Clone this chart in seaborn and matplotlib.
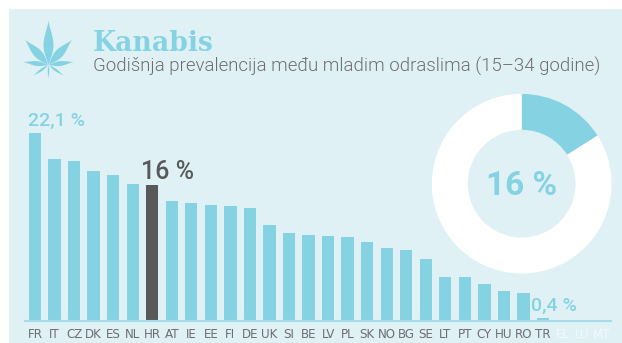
import matplotlib
matplotlib.use("Agg")
import matplotlib.pyplot as plt
from matplotlib.patches import Polygon
import numpy as np
import pandas as pd
import seaborn as sns

countries = ["FR","IT","CZ","DK","ES","NL","HR","AT","IE","EE","FI","DE","UK","SI","BE",
             "LV","PL","SK","NO","BG","SE","LT","PT","CY","HU","RO","TR","EL","LU","MT"]
prevalence = [22.1,19.0,18.8,17.6,17.2,16.1,16.0,14.1,13.9,13.6,13.5,13.3,11.3,10.3,10.1,
              10.0,9.9,9.3,8.6,8.3,7.3,5.2,5.2,4.3,3.5,3.3,0.4,0,0,0]
highlight = "HR"
missing = ["EL","LU","MT"]
donut_values = [16, 84]
title = "Kanabis"
subtitle = "Godišnja prevalencija među mladim odraslima (15–34 godine)"

BG = "#e0f1f6"
BLUE = "#85d3e2"
DARK = "#58595b"
GREY = "#6d6e71"
W, H = 622, 343

sns.set_theme(style="white", rc={"font.family": ["Liberation Sans Narrow", "DejaVu Sans"]})
fig = plt.figure(figsize=(W/100, H/100), dpi=100, facecolor="white")

def box(x0, ytop, x1, ybot):
    return [x0/W, 1-ybot/H, (x1-x0)/W, (ybot-ytop)/H]

# panel
bg = fig.add_axes(box(9, 9, W, H)); bg.set_facecolor(BG)
bg.set_xticks([]); bg.set_yticks([]); sns.despine(ax=bg, left=True, bottom=True)

# bars
ax = fig.add_axes(box(25, 133, 611, 321)); ax.patch.set_alpha(0)
df = pd.DataFrame({"country": countries, "value": prevalence})
palette = {c: (DARK if c == highlight else BLUE) for c in countries}
sns.barplot(data=df, x="country", y="value", hue="country", palette=palette, legend=False,
            width=0.63, saturation=1, ax=ax, order=countries, linewidth=0)
ax.set_xlim(-0.512, 29.48); ax.set_ylim(0, 22.1)
ax.set_xlabel(""); ax.set_ylabel(""); ax.set_yticks([])
ax.tick_params(axis="x", length=0, pad=5, labelsize=8.6)
for lab in ax.get_xticklabels():
    lab.set_color("white" if lab.get_text() in missing else GREY)
    if lab.get_text() in missing:
        lab.set_alpha(0.6)
sns.despine(ax=ax, left=True)
ax.spines["bottom"].set_color("#a5dde8"); ax.spines["bottom"].set_linewidth(1.5)

sans = ["Roboto", "DejaVu Sans"]
ax.annotate("22,1 %", (0, 22.1), xytext=(-7, 3), textcoords="offset pixels", color=BLUE,
            fontsize=14, fontweight=500, family=sans, va="bottom", ha="left", annotation_clip=False)
ax.annotate("16 %", (6, 16.0), xytext=(-11, 1), textcoords="offset pixels", color=DARK,
            fontsize=18, fontweight=500, family=sans, va="bottom", ha="left", annotation_clip=False)
ax.annotate("0,4 %", (26, 0.4), xytext=(-12, 3), textcoords="offset pixels", color=BLUE,
            fontsize=14, fontweight=500, family=sans, va="bottom", ha="left", annotation_clip=False)

# donut
cx, cy, r = 521.7, 183.7, 89.8
dax = fig.add_axes(box(cx-r, cy-r, cx+r, cy+r)); dax.patch.set_alpha(0)
dax.pie(donut_values, colors=[BLUE, "white"], startangle=90, counterclock=False, radius=1,
        wedgeprops={"width": 0.4, "linewidth": 0})
dax.set_xlim(-1, 1); dax.set_ylim(-1, 1)
dax.text(0, -0.025, "16 %", ha="center", va="center", color=BLUE, fontsize=24, fontweight="bold", family=sans)

# overlay for text and icon
ov = fig.add_axes([0, 0, 1, 1]); ov.axis("off"); ov.set_xlim(0, W); ov.set_ylim(H, 0)
ov.text(93, 51, title, color=BLUE, fontsize=19.2, fontweight="bold", family=["DejaVu Serif"], va="baseline")
ov.text(93, 72, subtitle, color=GREY, fontsize=13.4, fontweight=300, family=["Roboto"], va="baseline")

def leaf(ang, length, width, base=(48.5, 65)):
    t = np.linspace(0, 1, 30)
    w = width * np.sin(np.pi * t**0.85)**1.5
    xs = np.r_[t*length, (t*length)[::-1]]
    ys = np.r_[w, -w[::-1]]
    a = np.deg2rad(ang)
    X = base[0] + xs*np.cos(a) - ys*np.sin(a)
    Y = base[1] - xs*np.sin(a) - ys*np.cos(a)
    ov.add_patch(Polygon(np.c_[X, Y], closed=True, fc=BLUE, ec="none"))
for ang, L, wd in [(90, 45, 5), (47, 35, 4.2), (133, 35, 4.2), (7, 26, 2.4), (173, 26, 2.4),
                   (-35, 19, 1.2), (215, 19, 1.2), (-90, 14, 0.8)]:
    leaf(ang, L, wd)

fig.savefig("out.png", dpi=100, facecolor="white")
